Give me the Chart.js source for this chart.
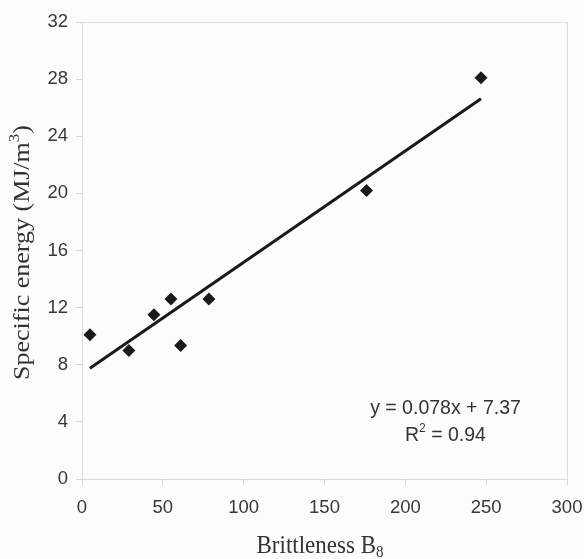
<!DOCTYPE html>
<html>
<head>
<meta charset="utf-8">
<script src="https://cdn.jsdelivr.net/npm/chart.js@4"></script>
<style>
html,body{margin:0;padding:0;background:#fcfcfc;}
#wrap{width:584px;height:559px;}
</style>
</head>
<body>
<div id="wrap"><canvas id="c" width="584" height="559"></canvas></div>
<script>
const brittleness = [4.9, 29, 44.5, 55, 61, 78.5, 176, 246.8];
const specificEnergy = [10.1, 9.0, 11.5, 12.6, 9.35, 12.6, 20.2, 28.1];
const trendSlope = 0.078;
const trendIntercept = 7.37;
const xTicks = [0, 50, 100, 150, 200, 250, 300];
const yTicks = [0, 4, 8, 12, 16, 20, 24, 28, 32];
const equationText = "y = 0.078x + 7.37";
const r2Value = "0.94";

const xMin = Math.min(...brittleness), xMax = Math.max(...brittleness);
const trend = [
  {x: xMin, y: trendSlope * xMin + trendIntercept},
  {x: xMax, y: trendSlope * xMax + trendIntercept}
];
const pts = brittleness.map((x, i) => ({x, y: specificEnergy[i]}));

const SANS = '"Liberation Sans", Arial, sans-serif';
const SERIF = '"Liberation Serif", "Times New Roman", serif';

const frame = {
  id: 'frame',
  beforeDraw(chart) {
    const {ctx, chartArea: a} = chart;
    ctx.save();
    ctx.fillStyle = '#fcfcfc';
    ctx.fillRect(0, 0, chart.width, chart.height);
    ctx.strokeStyle = '#dcdcdc';
    ctx.lineWidth = 1;
    ctx.strokeRect(a.left + 0.5, a.top + 0.5, a.right - a.left, a.bottom - a.top);
    ctx.restore();
  },
  afterDraw(chart) {
    const {ctx, chartArea: a} = chart;
    ctx.save();
    ctx.fillStyle = '#333333';
    // equation
    ctx.font = '19.5px ' + SANS;
    ctx.textAlign = 'center';
    ctx.textBaseline = 'middle';
    ctx.fillText(equationText, 445.5, 408.5);
    const p1 = 'R', p2 = ' = ' + r2Value;
    const w1 = ctx.measureText(p1).width;
    const w2 = ctx.measureText(p2).width;
    ctx.font = '12px ' + SANS;
    const ws = ctx.measureText('2').width;
    let sx = 445.5 - (w1 + ws + w2) / 2;
    ctx.textAlign = 'left';
    ctx.font = '19.5px ' + SANS;
    ctx.fillText(p1, sx, 436);
    ctx.font = '12px ' + SANS;
    ctx.fillText('2', sx + w1, 429);
    ctx.font = '19.5px ' + SANS;
    ctx.fillText(p2, sx + w1 + ws, 436);

    // x title
    ctx.textBaseline = 'alphabetic';
    const big = '23px ' + SERIF;
    const small = '15px ' + SERIF;
    ctx.save();
    ctx.translate(0, 553);
    ctx.scale(1, 1.12);
    ctx.font = big;
    const xt = 'Brittleness B';
    const wx = ctx.measureText(xt).width;
    ctx.font = small;
    const wsub = ctx.measureText('8').width;
    let cx = 320 - (wx + wsub) / 2;
    ctx.font = big;
    ctx.fillText(xt, cx, 0);
    ctx.font = small;
    ctx.fillText('8', cx + wx, 3.5);
    ctx.restore();

    // y title
    ctx.save();
    ctx.translate(28.5, 252.5);
    ctx.rotate(-Math.PI / 2);
    ctx.scale(1.13, 1);
    ctx.font = big;
    const ya = 'Specific energy (MJ/m';
    const wa = ctx.measureText(ya).width;
    ctx.font = small;
    const wsup = ctx.measureText('3').width;
    ctx.font = big;
    const wb = ctx.measureText(')').width;
    let cy = -(wa + wsup + wb) / 2;
    ctx.fillText(ya, cy, 0);
    ctx.font = small;
    ctx.fillText('3', cy + wa, -9.5);
    ctx.font = big;
    ctx.fillText(')', cy + wa + wsup, 0);
    ctx.restore();
    ctx.restore();
  }
};

new Chart(document.getElementById('c'), {
  type: 'scatter',
  data: {
    datasets: [
      {
        type: 'line',
        data: trend,
        borderColor: '#1a1a1a',
        borderWidth: 3,
        pointRadius: 0,
        fill: false,
        order: 2
      },
      {
        data: pts,
        pointStyle: 'rectRot',
        pointRadius: 6.5,
        backgroundColor: '#1a1a1a',
        borderColor: '#1a1a1a',
        borderWidth: 0,
        order: 1
      }
    ]
  },
  options: {
    responsive: false,
    animation: false,
    layout: {padding: {top: 22, right: 17, left: 0, bottom: 0}},
    plugins: {legend: {display: false}, tooltip: {enabled: false}},
    scales: {
      x: {
        type: 'linear',
        min: 0, max: 300,
        afterFit(s) { s.height = 80; s.paddingLeft = 0; s.paddingRight = 0; },
        afterBuildTicks(s) { s.ticks = xTicks.map(v => ({value: v})); },
        border: {display: false},
        grid: {drawOnChartArea: false, drawTicks: true, tickLength: 6, color: '#d6d6d6'},
        ticks: {color: '#383838', font: {family: SANS, size: 18.5}, padding: 12, maxRotation: 0}
      },
      y: {
        type: 'linear',
        min: 0, max: 32,
        afterFit(s) { s.width = 82; s.paddingTop = 0; s.paddingBottom = 0; },
        afterBuildTicks(s) { s.ticks = yTicks.map(v => ({value: v})); },
        border: {display: false},
        grid: {drawOnChartArea: false, drawTicks: true, tickLength: 6, color: '#d6d6d6'},
        ticks: {color: '#383838', font: {family: SANS, size: 18.5}, padding: 8}
      }
    }
  },
  plugins: [frame]
});
</script>
</body>
</html>
